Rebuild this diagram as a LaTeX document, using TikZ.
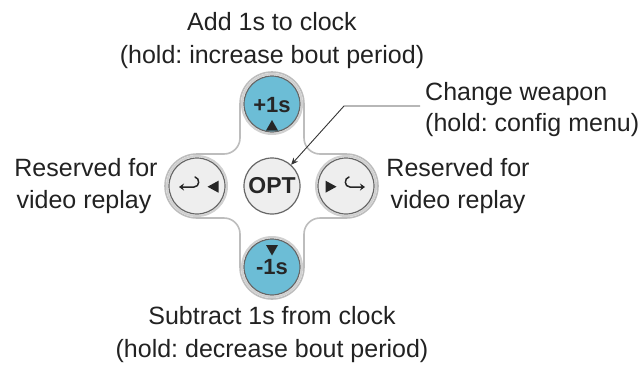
\documentclass[tikz,border=0pt]{standalone}
\usepackage{fontspec}
\setmainfont{Liberation Sans}
\usetikzlibrary{arrows.meta}
\definecolor{btnblue}{HTML}{6CBDD6}
\definecolor{btngrey}{HTML}{EEEEEE}
\definecolor{ringgrey}{HTML}{666666}
\definecolor{outl}{HTML}{BDBDBD}
\definecolor{halo}{HTML}{D0D0D0}
\definecolor{txt}{HTML}{222222}
\tikzset{
  x=1pt,y=-1pt,
  lbl/.style={font=\fontsize{25}{25}\selectfont\frenchspacing,text=txt,inner sep=0pt,anchor=center},
  btn/.style={circle,draw=ringgrey,line width=1.2pt,minimum size=56pt,inner sep=0pt,text=black!85},
  bluebtn/.style={btn,fill=btnblue},
  greybtn/.style={btn,fill=btngrey},
  haloring/.style={draw=halo,line width=2pt},
  tri/.style={fill=black!85,draw=none},
  glyph/.style={draw=black!85,line width=1.5pt,line cap=round,line join=round},
  btntxt/.style={inner sep=0pt,text=black!85,font=\fontsize{22}{22}\selectfont\bfseries},
}
\begin{document}
\begin{tikzpicture}
\useasboundingbox (0,0) rectangle (644,365);
\fill[white] (0,0) rectangle (644,365);
% cross outline
\draw[outl,line width=1.6pt,line join=round]
  (240,104) arc[start angle=180,end angle=360,radius=32]
  -- (304,138) arc[start angle=180,end angle=90,radius=16] -- (346,154)
  arc[start angle=-90,end angle=90,radius=32] -- (320,218)
  arc[start angle=270,end angle=180,radius=16] -- (304,267)
  arc[start angle=0,end angle=180,radius=32] -- (240,234)
  arc[start angle=0,end angle=-90,radius=16] -- (197,218)
  arc[start angle=90,end angle=270,radius=32] -- (224,154)
  arc[start angle=90,end angle=0,radius=16] -- cycle;
% halos
\foreach \cx/\cy in {272/104,272/267,197/186,346/186}
  \draw[haloring] (\cx,\cy) circle[radius=30];
% buttons
\node[bluebtn] (up) at (272,104) {};
\node[bluebtn] (down) at (272,267) {};
\node[greybtn] (left) at (197,186) {};
\node[greybtn] (right) at (346,186) {};
\node[greybtn,font=\fontsize{23}{23}\selectfont\bfseries] (opt) at (272,186) {OPT};
\node[btntxt] (uplbl) at (272,105) {+1s};
\node[btntxt] (downlbl) at (272,267) {-1s};
% triangles
\fill[tri] (272,120) -- (266,130.5) -- (278,130.5) -- cycle;
\fill[tri] (272,255.5) -- (266,245) -- (278,245) -- cycle;
\fill[tri] (207.5,186.7) -- (218.5,180.7) -- (218.5,192.7) -- cycle;
\fill[tri] (336.5,186.7) -- (325.5,180.7) -- (325.5,192.7) -- cycle;
% return glyphs
\draw[glyph,-{Stealth[length=5pt,width=7pt]}] (195,177) .. controls (200,178) and (200,187) .. (194,187) -- (179,187);
\draw[glyph,-{Stealth[length=5pt,width=7pt]}] (349,177) .. controls (344,178) and (344,187) .. (350,187) -- (365,187);
% labels
\node[lbl] (t1) at (272,22) {Add 1s to clock};
\node[lbl] (t2) at (272,57) {(hold: increase bout period)};
\node[lbl,anchor=west] (c1) at (425,94) {Change weapon};
\node[lbl,anchor=west] (c2) at (425,125) {(hold: config menu)};
\node[lbl] (l1) at (86,168) {Reserved for};
\node[lbl] (l2) at (84,202) {video replay};
\node[lbl] (r1) at (458,168) {Reserved for};
\node[lbl] (r2) at (458,202) {video replay};
\node[lbl] (b1) at (272,316) {Subtract 1s from clock};
\node[lbl] (b2) at (272,351) {(hold: decrease bout period)};
% connector
\coordinate (cstart) at (420,106);
\coordinate (ccorner) at (344,106);
\draw[black!80,line width=0.9pt,-{Stealth[length=7pt,width=6pt]}] (cstart) -- (ccorner) -- (opt.48);
\end{tikzpicture}
\end{document}
